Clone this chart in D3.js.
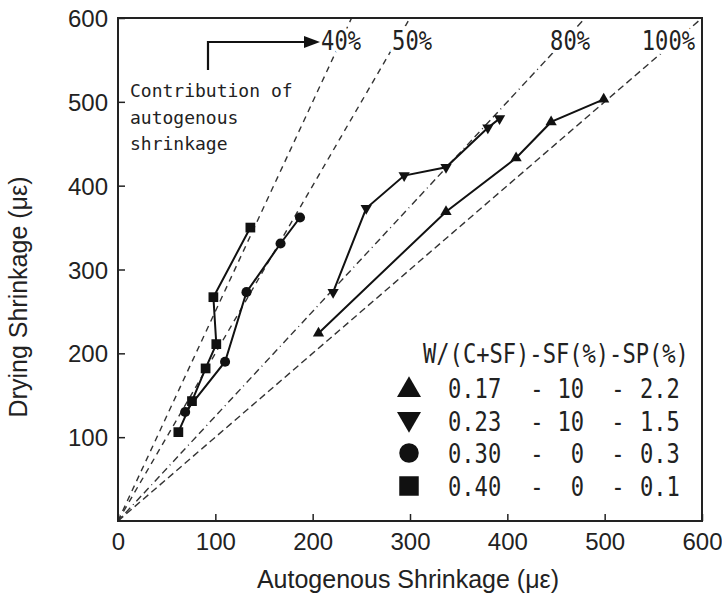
<!DOCTYPE html>
<html>
<head>
<meta charset="utf-8">
<script src="https://cdn.jsdelivr.net/npm/d3@7"></script>
<style>
  body { margin: 0; background: #fff; }
  svg { display: block; }
  .axis-title { font-family: "Liberation Sans Narrow", "Liberation Sans", Arial, sans-serif; font-size: 25px; fill: #222; }
  .tick-label { font-family: "Liberation Sans Narrow", "Liberation Sans", Arial, sans-serif; font-size: 24px; fill: #222; }
  .mono { font-family: "DejaVu Sans Mono", "Liberation Mono", monospace; fill: #222; }
</style>
</head>
<body>
<div id="chart"></div>
<script>
var x_ticks = [0, 100, 200, 300, 400, 500, 600]
var y_ticks = [100, 200, 300, 400, 500, 600]

// contribution of autogenous shrinkage = autogenous / drying
var ratios = [0.4, 0.5, 0.8, 1.0]
var ratio_labels = ["40%", "50%", "80%", "100%"]
var ratio_dash = ["6,5", "6,5", "7,4,7,4,1,4", "7,4"]

var wb_labels = ["0.17", "0.23", "0.30", "0.40"]
var sf_labels = ["10", "10", "0", "0"]
var sp_labels = ["2.2", "1.5", "0.3", "0.1"]

// [autogenous, drying] in micro strain
var wb017 = [[206, 224], [337, 369], [409, 433], [445, 476], [499, 503]]
var wb023 = [[221, 273], [255, 373], [294, 412], [337, 422], [380, 469], [392, 480]]
var wb030 = [[69, 130], [110, 190], [132, 273], [167, 331], [187, 362]]
var wb040 = [[62, 106], [76, 143], [90, 182], [101, 211], [98, 267], [136, 350]]

var width = 722,
    height = 596

var x = d3.scaleLinear().domain([0, 600]).range([118, 702])
var y = d3.scaleLinear().domain([0, 600]).range([521, 18])

var svg = d3.select("#chart").append("svg")
    .attr("width", width)
    .attr("height", height)

// shapes: up triangle, down triangle, circle, square
var shapes = [
  { type: d3.symbolTriangle, rot: 0, small: 55, big: 250 },
  { type: d3.symbolTriangle, rot: 180, small: 55, big: 250 },
  { type: d3.symbolCircle, rot: 0, small: 80, big: 300 },
  { type: d3.symbolSquare, rot: 0, small: 95, big: 380 }
]
var all_series = [wb017, wb023, wb030, wb040]

// reference lines from the origin
var ref = svg.append("g")
ratios.forEach(function(r, i) {
  var xe = Math.min(600, 600 * r)
  ref.append("line")
      .attr("x1", x(0)).attr("y1", y(0))
      .attr("x2", x(xe)).attr("y2", y(xe / r))
      .attr("stroke", "#333")
      .attr("stroke-width", 1.4)
      .attr("stroke-dasharray", ratio_dash[i])
})

var label_x = [361, 432, 590, 695]
ratio_labels.forEach(function(t, i) {
  svg.append("text")
      .attr("class", "mono")
      .attr("transform", "translate(" + label_x[i] + ",50) scale(0.85,1)")
      .attr("text-anchor", "end")
      .style("font-size", "26px")
      .style("paint-order", "stroke")
      .style("stroke", "#fff")
      .style("stroke-width", "8px")
      .text(t)
})

// frame
svg.append("rect")
    .attr("x", x(0)).attr("y", y(600))
    .attr("width", x(600) - x(0))
    .attr("height", y(0) - y(600))
    .attr("fill", "none")
    .attr("stroke", "#222")
    .attr("stroke-width", 2)

var xAxis = d3.axisBottom(x).tickValues(x_ticks).tickSize(-7).tickPadding(12).tickFormat(d3.format("d"))
var yAxis = d3.axisLeft(y).tickValues(y_ticks).tickSize(-7).tickPadding(10).tickFormat(d3.format("d"))

var gx = svg.append("g").attr("transform", "translate(0," + y(0) + ")").call(xAxis)
var gy = svg.append("g").attr("transform", "translate(" + x(0) + ",0)").call(yAxis)
;[gx, gy].forEach(function(g) {
  g.select(".domain").remove()
  g.selectAll(".tick line").attr("stroke", "#222").attr("stroke-width", 1.5)
  g.selectAll(".tick text").attr("class", "tick-label").attr("fill", null)
})
gx.selectAll(".tick text").attr("dy", "0.71em")
gy.selectAll(".tick text").attr("dy", "0.36em")

// data
var line = d3.line()
    .x(function(d) { return x(d[0]) })
    .y(function(d) { return y(d[1]) })

all_series.forEach(function(data, i) {
  svg.append("path")
      .datum(data)
      .attr("d", line)
      .attr("fill", "none")
      .attr("stroke", "#111")
      .attr("stroke-width", 2)

  svg.selectAll(".pt" + i)
      .data(data).enter()
    .append("path")
      .attr("class", "pt" + i)
      .attr("transform", function(d) {
        return "translate(" + x(d[0]) + "," + y(d[1]) + ") rotate(" + shapes[i].rot + ")"
      })
      .attr("d", d3.symbol().type(shapes[i].type).size(shapes[i].small))
      .attr("fill", "#111")
})

// annotation
svg.append("path")
    .attr("d", "M208,70 V42 H306")
    .attr("fill", "none")
    .attr("stroke", "#111")
    .attr("stroke-width", 2.2)
svg.append("path")
    .attr("d", "M304,36 L320,42 L304,48 Z")
    .attr("fill", "#111")

var note = ["Contribution of", "autogenous", "shrinkage"]
note.forEach(function(t, i) {
  svg.append("text")
      .attr("class", "mono")
      .attr("x", 130)
      .attr("y", 97 + i * 26.5)
      .style("font-size", "18px")
      .text(t)
})

// legend
var leg = svg.append("g")
leg.append("text")
    .attr("class", "mono")
    .attr("transform", "translate(423,363) scale(0.85,1)")
    .style("font-size", "26px")
    .text("W/(C+SF)-SF(%)-SP(%)")

var row_y = [388, 421, 453, 486]
wb_labels.forEach(function(t, i) {
  var cy = row_y[i]
  leg.append("path")
      .attr("transform", "translate(409," + (cy + (i < 2 ? (i == 0 ? 2 : -2) : 0)) + ") rotate(" + shapes[i].rot + ")")
      .attr("d", d3.symbol().type(shapes[i].type).size(shapes[i].big))
      .attr("fill", "#111")
  var cols = [
    { x: 448, a: "start", s: t },
    { x: 537, a: "middle", s: "-" },
    { x: 584, a: "end", s: sf_labels[i] },
    { x: 618, a: "middle", s: "-" },
    { x: 640, a: "start", s: sp_labels[i] }
  ]
  cols.forEach(function(c) {
    leg.append("text")
        .attr("class", "mono")
        .attr("transform", "translate(" + c.x + "," + (cy + 10) + ") scale(0.85,1)")
        .attr("text-anchor", c.a)
        .style("font-size", "26px")
        .text(c.s)
  })
})

// axis titles
svg.append("text")
    .attr("class", "axis-title")
    .attr("x", 408)
    .attr("y", 588)
    .attr("text-anchor", "middle")
    .text("Autogenous Shrinkage (με)")

svg.append("text")
    .attr("class", "axis-title")
    .attr("transform", "translate(27,297) rotate(-90)")
    .attr("text-anchor", "middle")
    .text("Drying Shrinkage (με)")
</script>
</body>
</html>
